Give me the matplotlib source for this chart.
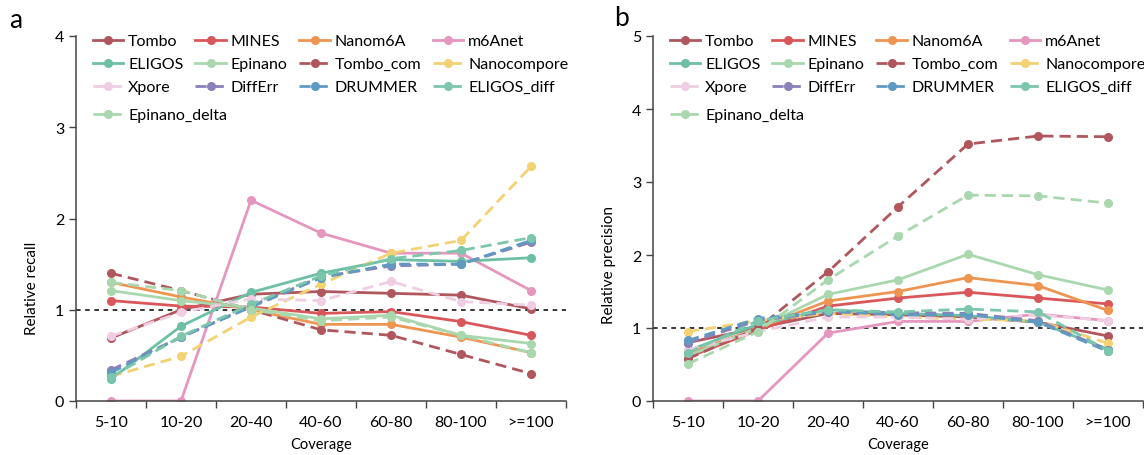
import matplotlib

matplotlib.use("Agg")
import matplotlib.pyplot as plt
import numpy as np

plt.rcParams["font.family"] = ["Lato", "DejaVu Sans"]

coverage = ["5-10", "10-20", "20-40", "40-60", "60-80", "80-100", ">=100"]

methods = ["Tombo", "MINES", "Nanom6A", "m6Anet", "ELIGOS", "Epinano", "Tombo_com",
           "Nanocompore", "Xpore", "DiffErr", "DRUMMER", "ELIGOS_diff", "Epinano_delta"]
colors = ["#b0575e", "#d9575a", "#ef9552", "#e597c0", "#6cc0a3", "#a9d8ae", "#b0575e",
          "#f2d272", "#efcde2", "#8b80b8", "#5f9ac2", "#7cc7ac", "#a9d8ae"]
dashed = [False, False, False, False, False, False, True,
          True, True, True, True, True, True]

# relative recall (panel a)
recall = {
    "Tombo":         [0.69, 1.00, 1.17, 1.20, 1.18, 1.16, 1.01],
    "MINES":         [1.10, 1.04, 1.03, 0.96, 0.98, 0.87, 0.72],
    "Nanom6A":       [1.30, 1.14, 1.00, 0.84, 0.84, 0.70, 0.53],
    "m6Anet":        [0.00, 0.00, 2.20, 1.84, 1.62, 1.62, 1.21],
    "ELIGOS":        [0.24, 0.82, 1.19, 1.40, 1.55, 1.53, 1.57],
    "Epinano":       [1.21, 1.10, 1.02, 0.90, 0.94, 0.72, 0.63],
    "Tombo_com":     [1.40, 1.21, 1.00, 0.78, 0.72, 0.51, 0.30],
    "Nanocompore":   [0.27, 0.49, 0.92, 1.28, 1.62, 1.76, 2.57],
    "Xpore":         [0.71, 0.97, 1.12, 1.10, 1.31, 1.09, 1.05],
    "DiffErr":       [0.34, 0.70, 1.04, 1.36, 1.48, 1.50, 1.74],
    "DRUMMER":       [0.31, 0.70, 1.03, 1.35, 1.50, 1.50, 1.76],
    "ELIGOS_diff":   [0.26, 0.71, 1.06, 1.37, 1.56, 1.65, 1.79],
    "Epinano_delta": [1.30, 1.21, 1.00, 0.88, 0.92, 0.72, 0.53],
}

# relative precision (panel b)
precision = {
    "Tombo":         [0.80, 1.00, 1.20, 1.18, 1.15, 1.08, 0.89],
    "MINES":         [0.60, 0.97, 1.30, 1.41, 1.49, 1.41, 1.33],
    "Nanom6A":       [0.65, 1.00, 1.37, 1.50, 1.69, 1.58, 1.24],
    "m6Anet":        [0.00, 0.00, 0.93, 1.09, 1.09, 1.19, 1.10],
    "ELIGOS":        [0.69, 1.05, 1.25, 1.20, 1.17, 1.08, 0.71],
    "Epinano":       [0.62, 1.00, 1.46, 1.66, 2.01, 1.73, 1.52],
    "Tombo_com":     [0.58, 1.00, 1.77, 2.66, 3.52, 3.63, 3.62],
    "Nanocompore":   [0.95, 1.10, 1.20, 1.15, 1.12, 1.10, 0.79],
    "Xpore":         [0.70, 0.95, 1.15, 1.15, 1.12, 1.18, 1.10],
    "DiffErr":       [0.80, 1.10, 1.22, 1.21, 1.20, 1.10, 0.70],
    "DRUMMER":       [0.83, 1.13, 1.23, 1.18, 1.18, 1.08, 0.68],
    "ELIGOS_diff":   [0.66, 1.10, 1.25, 1.22, 1.26, 1.22, 0.69],
    "Epinano_delta": [0.51, 0.95, 1.66, 2.26, 2.82, 2.81, 2.71],
}

W, H = 1144, 456


def draw(ax, data, ylabel, ymax, ylab_y, leg_x):
    x = np.arange(len(coverage))
    handles = []
    for m, c, d in zip(methods, colors, dashed):
        (h,) = ax.plot(x, data[m], color=c, lw=2.0, ls=(0, (4, 2.2)) if d else "-",
                       marker="o", ms=5.5, label=m)
        handles.append(h)
    ax.axhline(1, color="black", lw=1.1, ls=(0, (3, 3)), zorder=0)
    ax.set_xlim(-0.5, 6.5)
    ax.set_ylim(0, ymax)
    ax.set_yticks(range(ymax + 1))
    # tick marks between categories, labels at centres
    ax.set_xticks(np.arange(-0.5, 7, 1))
    ax.set_xticklabels([])
    ax.set_xticks(x, minor=True)
    ax.set_xticklabels(coverage, minor=True)
    ax.tick_params(axis="x", which="minor", length=0, pad=10, labelsize=11.5)
    ax.tick_params(axis="x", which="major", length=5, width=1, color="#444444")
    ax.tick_params(axis="y", length=5, width=1, color="#444444", labelsize=11.5)
    for s in ("top", "right"):
        ax.spines[s].set_visible(False)
    for s in ("left", "bottom"):
        ax.spines[s].set_color("#444444")
        ax.spines[s].set_linewidth(1.1)
    ax.set_xlabel("Coverage", fontsize=10.5, labelpad=6)
    ax.set_ylabel(ylabel, fontsize=11)
    ax.yaxis.set_label_coords(-0.075, ylab_y)

    # legend laid out row by row: 3 full rows of 4, then Epinano_delta alone
    order = [0, 4, 8, 1, 5, 9, 2, 6, 10, 3, 7, 11]
    kw = dict(frameon=False, fontsize=11.5, handlelength=1.9, handletextpad=0.3,
              columnspacing=0.75, labelspacing=0.55, borderpad=0, borderaxespad=0,
              loc="upper left", bbox_transform=ax.figure.transFigure)
    leg1 = ax.legend([handles[i] for i in order], [methods[i] for i in order], ncol=4,
                     bbox_to_anchor=(leg_x / W, 1 - 35 / H), **kw)
    ax.add_artist(leg1)
    ax.legend([handles[12]], [methods[12]],
              bbox_to_anchor=(leg_x / W, 1 - 109 / H), **kw)


fig = plt.figure(figsize=(W / 100, H / 100), dpi=100)
ax1 = fig.add_axes([76 / W, 1 - 402 / H, 490 / W, 365 / H])
ax2 = fig.add_axes([653 / W, 1 - 402 / H, 490 / W, 365 / H])
draw(ax1, recall, "Relative recall", 4, 0.31, 93)
draw(ax2, precision, "Relative precision", 5, 0.375, 670)
fig.text(16 / W, 1 - 20 / H, "a", fontsize=19, ha="center", va="center")
fig.text(621 / W, 1 - 18 / H, "b", fontsize=19, ha="center", va="center")

fig.savefig("out.png", dpi=100)
